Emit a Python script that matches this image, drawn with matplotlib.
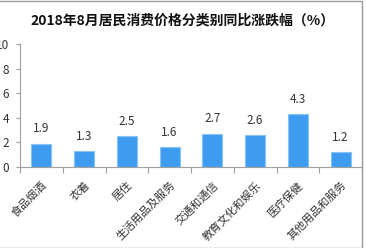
import matplotlib.pyplot as plt
from matplotlib.patches import Rectangle

plt.rcParams['font.family'] = ['Noto Sans CJK SC', 'DejaVu Sans']

categories = ['食品烟酒', '衣着', '居住', '生活用品及服务', '交通和通信',
              '教育文化和娱乐', '医疗保健', '其他用品和服务']
values = [1.9, 1.3, 2.5, 1.6, 2.7, 2.6, 4.3, 1.2]
yticks = [0, 2, 4, 6, 8, 10]

fig = plt.figure(figsize=(3.66, 2.48), dpi=100)
ax = fig.add_axes([20 / 366, 1 - 167 / 248, 342 / 366, 123 / 248])

x = range(len(values))
bars = ax.bar(x, values, width=0.47, color='#3d9cf0', edgecolor='#86c4f7', linewidth=0.8)
for xi, v in zip(x, values):
    ax.annotate(f'{v}', (xi, v), xytext=(0, 6), textcoords='offset points',
                ha='center', va='bottom', fontsize=8.5, color='#333333')

ax.set_xlim(-0.5, len(values) - 0.5)
ax.set_ylim(0, 10)
ax.set_yticks(yticks)
ax.set_yticklabels([str(t) for t in yticks], fontsize=8.5, color='#333333')

# ticks between categories, labels at centres
ax.set_xticks([i - 0.5 for i in range(len(values) + 1)])
ax.set_xticklabels([])
ax.set_xticks(list(x), minor=True)
ax.set_xticklabels(categories, minor=True, rotation=45, ha='right',
                   rotation_mode='anchor', fontsize=8, color='#333333')
ax.tick_params(axis='x', which='minor', length=0, pad=9)
ax.tick_params(axis='x', which='major', length=4, color='#a0a0a0')
ax.tick_params(axis='y', length=3, color='#a0a0a0', pad=5)

for s in ['top', 'right']:
    ax.spines[s].set_visible(False)
for s in ['left', 'bottom']:
    ax.spines[s].set_color('#a0a0a0')

fig.text(0.5, 1 - 21 / 248, '2018年8月居民消费价格分类别同比涨跌幅（%）',
         ha='center', va='center', fontsize=10, fontweight='bold', color='#111111')

# outer chart frame (partly outside the image)
fig.patches.append(Rectangle((-0.05, 0.5 / 248), 362 / 366 + 0.05, 1 - 1 / 248,
                             transform=fig.transFigure, fill=False,
                             edgecolor='#9a9a9a', linewidth=1))

fig.savefig('out.png', dpi=100)
